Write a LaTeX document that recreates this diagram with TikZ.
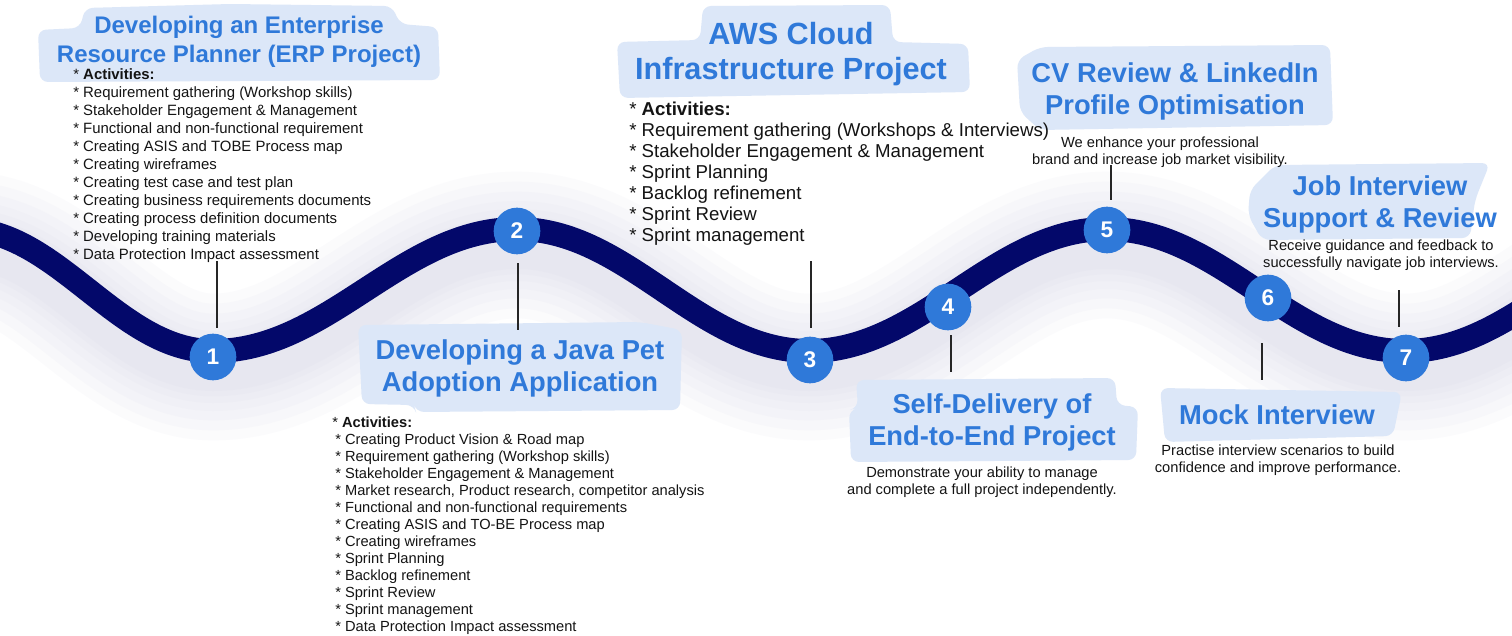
\documentclass[tikz,border=0pt]{standalone}
\usepackage{fontspec}
\setmainfont{Liberation Sans}
\definecolor{navyc}{HTML}{03086A}
\definecolor{stepc}{HTML}{2F79D9}
\definecolor{blobc}{HTML}{DCE7F8}
\definecolor{txtc}{HTML}{141414}
\definecolor{glowc}{HTML}{C9CAE0}
\def\wavepath{(-37,229) .. controls (58,229) and (118,351) .. (213,351)
 .. controls (329,351) and (401,229) .. (517,229)
 .. controls (628,229) and (698,351) .. (809,351)
 .. controls (922,351) and (994,229) .. (1107,229)
 .. controls (1220,229) and (1292,351) .. (1405,351)
 .. controls (1517,351) and (1588,229) .. (1700,229)}
\begin{document}
\begin{tikzpicture}[x=0.75pt,y=-0.75pt,
  stepnum/.style={circle, fill=stepc, minimum size=35pt, inner sep=0pt, text=white,
    font=\fontsize{17}{17}\selectfont\bfseries},
  ttl/.style={text=stepc, align=center, inner sep=0pt},
  item/.style={anchor=west, inner sep=0pt, text=txtc, text height=8pt, text depth=2.5pt},
  desc/.style={text=txtc, align=center, inner sep=0pt, font=\fontsize{11}{12.75}\selectfont},
  blobf/.style={fill=blobc, rounded corners=6pt},
  lead/.style={draw=black!85, line width=1pt},
  glow/.style={glowc, opacity=0.07, line cap=round},
]
\useasboundingbox (0,0) rectangle (1512,635);
\fill[white] (0,0) rectangle (1512,635);

% soft glow under the wave
\begin{scope}[shift={(0,16)}]
  \foreach \w in {110,95,80,66,54,44,36}
    \draw[glow, line width=\w pt] \wavepath;
\end{scope}
% wave
\draw[navyc, line width=18pt] \wavepath;

% highlight blobs
\fill[blobf] (38,30) -- (80,28) -- (85,8) -- (230,4) -- (392,6) -- (400,24) -- (438,27) -- (440,80) -- (40,82) -- cycle;
\fill[blobf] (358,325) -- (640,322) -- (682,330) -- (680,410) -- (416,412) -- (414,405) -- (362,404) -- cycle;
\fill[blobf] (617,42) -- (700,40) -- (703,6) -- (890,5) -- (893,42) -- (968,44) -- (970,92) -- (620,98) -- cycle;
\fill[blobf] (856,380) -- (1115,378) -- (1117,405) -- (1138,407) -- (1136,460) -- (851,462) -- (849,410) -- (858,408) -- cycle;
\fill[blobf] (1017,60) -- (1040,47) -- (1330,45) -- (1333,125) -- (1040,130) -- (1020,112) -- cycle;
\fill[blobf] (1160,388) -- (1402,392) -- (1393,436) -- (1165,442) -- cycle;
\fill[blobf] (1250,190) -- (1275,165) -- (1490,163) -- (1475,200) -- (1470,238) -- (1262,240) -- (1248,215) -- cycle;

% circles
\node[stepnum] (c1) at (213,357) {1};
\node[stepnum] (c2) at (517,231) {2};
\node[stepnum] (c3) at (810,360) {3};
\node[stepnum] (c4) at (948,307) {4};
\node[stepnum] (c5) at (1107,230) {5};
\node[stepnum] (c6) at (1268,298) {6};
\node[stepnum] (c7) at (1406,358) {7};

% titles
\node[ttl, font=\fontsize{18}{21.75}\selectfont\bfseries] (t1) at (239,42) {Developing an Enterprise\\Resource Planner (ERP Project)};
\node[ttl, font=\fontsize{20.5}{24}\selectfont\bfseries] (t2) at (520,368) {Developing a Java Pet\\Adoption Application};
\node[ttl, font=\fontsize{23}{26.25}\selectfont\bfseries] (t3) at (791,54) {AWS Cloud\\Infrastructure Project};
\node[ttl, font=\fontsize{20.5}{24}\selectfont\bfseries] (t4) at (992,422) {Self-Delivery of\\End-to-End Project};
\node[ttl, font=\fontsize{20.5}{24}\selectfont\bfseries] (t5) at (1175,91) {CV Review \& LinkedIn\\Profile Optimisation};
\node[ttl, font=\fontsize{20.5}{24}\selectfont\bfseries] (t6) at (1277,415) {Mock Interview};
\node[ttl, font=\fontsize{20.5}{24}\selectfont\bfseries] (t7) at (1380,204) {Job Interview\\Support \& Review};

% descriptions
\node[desc] (d4) at (982,482) {Demonstrate your ability to manage\\and complete a full project independently.};
\node[desc] (d5) at (1160,152) {We enhance your professional\\brand and increase job market visibility.};
\node[desc] (d6) at (1278,460) {Practise interview scenarios to build\\confidence and improve performance.};
\node[desc] (d7) at (1381,255) {Receive guidance and feedback to\\successfully navigate job interviews.};

% activity lists
\foreach \t [count=\i] in {{* \textbf{Activities:}},
  {* Requirement gathering (Workshop skills)},
  {* Stakeholder Engagement \& Management},
  {* Functional and non-functional requirement},
  {* Creating ASIS and TOBE Process map},
  {* Creating wireframes},
  {* Creating test case and test plan},
  {* Creating business requirements documents},
  {* Creating process definition documents},
  {* Developing training materials},
  {* Data Protection Impact assessment}}
  \node[item, font=\fontsize{11.2}{13}\selectfont] (erp\i) at (73,{76+18*(\i-1)}) {\t};

\node[item, font=\fontsize{11}{13}\selectfont] (jv1) at (332,424) {* \textbf{Activities:}};
\foreach \t [count=\i from 2] in {{* Creating Product Vision \& Road map},
  {* Requirement gathering (Workshop skills)},
  {* Stakeholder Engagement \& Management},
  {* Market research, Product research, competitor analysis},
  {* Functional and non-functional requirements},
  {* Creating ASIS and TO-BE Process map},
  {* Creating wireframes},
  {* Sprint Planning},
  {* Backlog refinement},
  {* Sprint Review},
  {* Sprint management},
  {* Data Protection Impact assessment}}
  \node[item, font=\fontsize{11}{13}\selectfont] (jv\i) at (335,{424+17*(\i-1)}) {\t};

\foreach \t [count=\i] in {{* \textbf{Activities:}},
  {* Requirement gathering (Workshops \& Interviews)},
  {* Stakeholder Engagement \& Management},
  {* Sprint Planning},
  {* Backlog refinement},
  {* Sprint Review},
  {* Sprint management}}
  \node[item, font=\fontsize{14}{16}\selectfont, text height=10pt, text depth=3pt] (aws\i) at (629,{111+21*(\i-1)}) {\t};

% leader lines
\coordinate (a1) at (217,261); \coordinate (b1) at (217,328);
\coordinate (a2) at (518,263); \coordinate (b2) at (518,330);
\coordinate (a3) at (811,261); \coordinate (b3) at (811,328);
\coordinate (a4) at (951,335); \coordinate (b4) at (951,372);
\coordinate (a5) at (1111,165); \coordinate (b5) at (1111,200);
\coordinate (a6) at (1262,343); \coordinate (b6) at (1262,380);
\coordinate (a7) at (1399,290); \coordinate (b7) at (1399,327);
\foreach \k in {1,...,7} \draw[lead] (a\k) -- (b\k);
\end{tikzpicture}
\end{document}
